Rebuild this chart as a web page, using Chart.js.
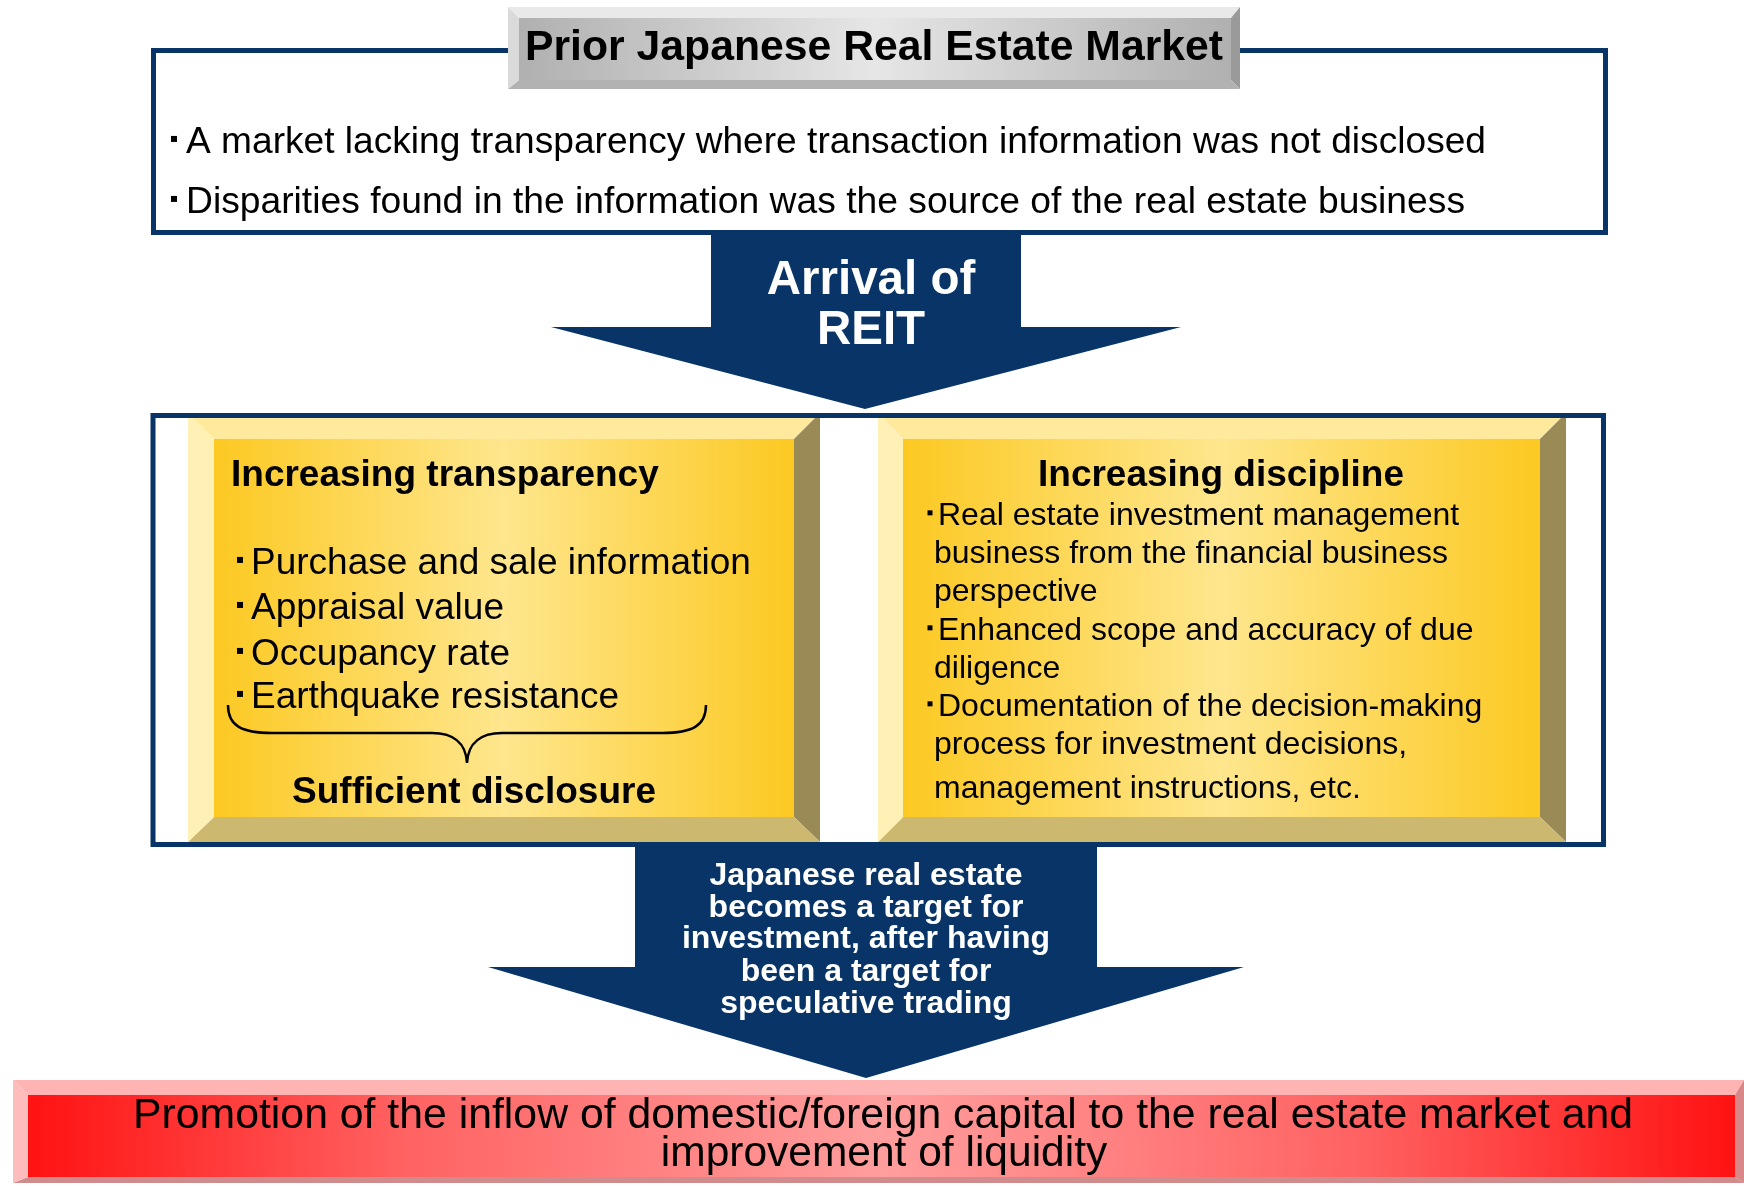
<!DOCTYPE html>
<html>
<head>
<meta charset="utf-8">
<title>Prior Japanese Real Estate Market</title>
<script src="https://cdn.jsdelivr.net/npm/chart.js@4.4.0/dist/chart.umd.min.js"></script>
<style>
	body{margin:0;background:#fff;}
	#chart{display:block;}
</style>
</head>
<body>
<canvas id="chart" width="1744" height="1185"></canvas>
<script>
// texts of the diagram
let titleText = 'Prior Japanese Real Estate Market';
let priorPoints = [
	'A market lacking transparency where transaction information was not disclosed',
	'Disparities found in the information was the source of the real estate business'
];
let arrivalLines = ['Arrival of', 'REIT'];
let transparencyTitle = 'Increasing transparency';
let transparencyItems = ['Purchase and sale information', 'Appraisal value', 'Occupancy rate', 'Earthquake resistance'];
let disclosureLabel = 'Sufficient disclosure';
let disciplineTitle = 'Increasing discipline';
let disciplineLines = [
	'Real estate investment management',
	'business from the financial business',
	'perspective',
	'Enhanced scope and accuracy of due',
	'diligence',
	'Documentation of the decision-making',
	'process for investment decisions,',
	'management instructions, etc.'
];
let disciplineBullets = [true, false, false, true, false, true, false, false];
let outcomeLines = ['Japanese real estate', 'becomes a target for', 'investment, after having', 'been a target for', 'speculative trading'];
let promotionLines = ['Promotion of the inflow of domestic/foreign capital to the real estate market and', 'improvement of liquidity'];

const NAVY = '#083467';
const FONT = '"Liberation Sans", Arial, sans-serif';

// draws the whole diagram on top of the (hidden) scales
const diagramPlugin = {
	id: 'diagram',
	beforeDraw(chart){
		let ctx = chart.ctx;
		ctx.save();
		ctx.fillStyle = '#fff';
		ctx.fillRect(0, 0, chart.width, chart.height);
		ctx.restore();
	},
	afterDraw(chart){
		let ctx = chart.ctx;
		let sx = chart.scales.x, sy = chart.scales.y;
		let X = v => sx.getPixelForValue(v);
		let Y = v => sy.getPixelForValue(v);

		function poly(pts, color){
			ctx.beginPath();
			pts.forEach((p, i) => i ? ctx.lineTo(X(p[0]), Y(p[1])) : ctx.moveTo(X(p[0]), Y(p[1])));
			ctx.closePath();
			ctx.fillStyle = color;
			ctx.fill();
		}

		function text(str, x, y, size, bold, color, align, width){
			ctx.save();
			ctx.font = (bold ? 'bold ' : '') + size + 'px ' + FONT;
			ctx.fillStyle = color;
			ctx.textBaseline = 'alphabetic';
			ctx.textAlign = align;
			let k = 1;
			if(width){
				k = width / ctx.measureText(str).width;
			}
			ctx.translate(X(x), Y(y));
			ctx.scale(k, 1);
			ctx.fillText(str, 0, 0);
			ctx.restore();
		}

		function bullet(x, baseline, size){
			let s = Math.round(size * 0.16);
			ctx.fillStyle = '#000';
			ctx.fillRect(X(x) - s / 2, Y(baseline - size * 0.38) - s / 2, s, s);
		}

		// bevelled box: o = outer [x0,y0,x1,y1], n = inner face, cols = top,right,bottom,left
		function bevel(o, n, cols, face){
			poly([[o[0], o[1]], [o[2], o[1]], [n[2], n[1]], [n[0], n[1]]], cols[0]);
			poly([[o[2], o[1]], [o[2], o[3]], [n[2], n[3]], [n[2], n[1]]], cols[1]);
			poly([[o[0], o[3]], [o[2], o[3]], [n[2], n[3]], [n[0], n[3]]], cols[2]);
			poly([[o[0], o[1]], [n[0], n[1]], [n[0], n[3]], [o[0], o[3]]], cols[3]);
			let g = ctx.createLinearGradient(X(n[0]), 0, X(n[2]), 0);
			face.forEach(s => g.addColorStop(s[0], s[1]));
			ctx.fillStyle = g;
			ctx.fillRect(X(n[0]), Y(n[1]), X(n[2]) - X(n[0]), Y(n[3]) - Y(n[1]));
		}

		function frame(x0, y0, x1, y1){
			ctx.strokeStyle = NAVY;
			ctx.lineWidth = 5;
			ctx.strokeRect(X(x0), Y(y0), X(x1) - X(x0), Y(y1) - Y(y0));
		}

		// top box
		frame(153.5, 50.5, 1605.5, 232.5);
		bevel([508, 7, 1240, 89], [519, 18, 1231, 80],
			['#e9e9e9', '#9a9a9a', '#b2b2b2', '#dadada'],
			[[0, '#b0b0b0'], [0.5, '#e6e6e6'], [1, '#b0b0b0']]);
		text(titleText, 874, 60, 43, true, '#000', 'center', 698);
		let topBase = [153, 213];
		let topWidth = [1300, 1279];
		priorPoints.forEach((t, i) => {
			bullet(174, topBase[i], 37);
			text(t, 186, topBase[i], 37, false, '#000', 'left', topWidth[i]);
		});

		// first arrow
		poly([[711, 234], [1021, 234], [1021, 327], [1181, 327], [865, 409], [551, 327], [711, 327]], NAVY);
		text(arrivalLines[0], 871, 294, 47.5, true, '#fff', 'center');
		text(arrivalLines[1], 871, 344, 47.5, true, '#fff', 'center');

		// yellow boxes
		let yellowCols = ['#ffe99d', '#9a8a56', '#ccb96f', '#fff0b5'];
		let yellowFace = [[0, '#fcc922'], [0.5, '#fee68d'], [1, '#fcc922']];
		bevel([188, 413, 820, 842], [214, 439, 794, 817], yellowCols, yellowFace);
		bevel([878, 413, 1566, 842], [903, 439, 1540, 817], yellowCols, yellowFace);

		// second arrow
		poly([[635, 843], [1097, 843], [1097, 967], [1244, 967], [866, 1078], [488, 967], [635, 967]], NAVY);
		frame(153, 415.5, 1603.5, 844.5);

		// left box texts
		text(transparencyTitle, 231, 486, 37, true, '#000', 'left');
		let leftBase = [574, 619, 665, 708];
		transparencyItems.forEach((t, i) => {
			bullet(240, leftBase[i], 37);
			text(t, 251, leftBase[i], 37, false, '#000', 'left');
		});
		ctx.beginPath();
		ctx.moveTo(X(228), Y(705));
		ctx.bezierCurveTo(X(228), Y(726), X(242), Y(733), X(272), Y(733));
		ctx.lineTo(X(432), Y(733));
		ctx.bezierCurveTo(X(452), Y(733), X(466), Y(742), X(467), Y(763));
		ctx.bezierCurveTo(X(468), Y(742), X(482), Y(733), X(502), Y(733));
		ctx.lineTo(X(662), Y(733));
		ctx.bezierCurveTo(X(692), Y(733), X(706), Y(726), X(706), Y(705));
		ctx.strokeStyle = '#000';
		ctx.lineWidth = 2.5;
		ctx.stroke();
		text(disclosureLabel, 474, 803, 37, true, '#000', 'center');

		// right box texts
		text(disciplineTitle, 1221, 486, 37, true, '#000', 'center');
		let rightBase = [525, 563, 601, 640, 678, 716, 754, 798];
		disciplineLines.forEach((t, i) => {
			if(disciplineBullets[i]){
				bullet(930, rightBase[i], 32);
				text(t, 938, rightBase[i], 32, false, '#000', 'left');
			}else{
				text(t, 934, rightBase[i], 32, false, '#000', 'left');
			}
		});

		// text in second arrow
		let outBase = [885, 917, 948, 981, 1013];
		outcomeLines.forEach((t, i) => text(t, 866, outBase[i], 32, true, '#fff', 'center'));

		// red result box
		bevel([13, 1080, 1744, 1183], [28, 1095, 1735, 1177],
			['#ffb4b4', '#d88888', '#d08c8c', '#ffbcbc'],
			[[0, '#ff1212'], [0.22, '#ff6262'], [0.5, '#ff9e9e'], [0.78, '#ff6262'], [1, '#ff1212']]);
		text(promotionLines[0], 883, 1128, 42.5, false, '#000', 'center', 1500);
		text(promotionLines[1], 884, 1166, 42.5, false, '#000', 'center');
	}
};

let ctx = document.getElementById('chart').getContext('2d');
let chart = new Chart(ctx, {
	type: 'scatter',
	data: {datasets: [{data: []}]},
	options: {
		responsive: false,
		animation: false,
		devicePixelRatio: 1,
		layout: {padding: 0},
		plugins: {legend: {display: false}, tooltip: {enabled: false}},
		scales: {
			x: {type: 'linear', min: 0, max: 1744, display: false},
			y: {type: 'linear', min: 0, max: 1185, reverse: true, display: false}
		}
	},
	plugins: [diagramPlugin]
});
</script>
</body>
</html>
